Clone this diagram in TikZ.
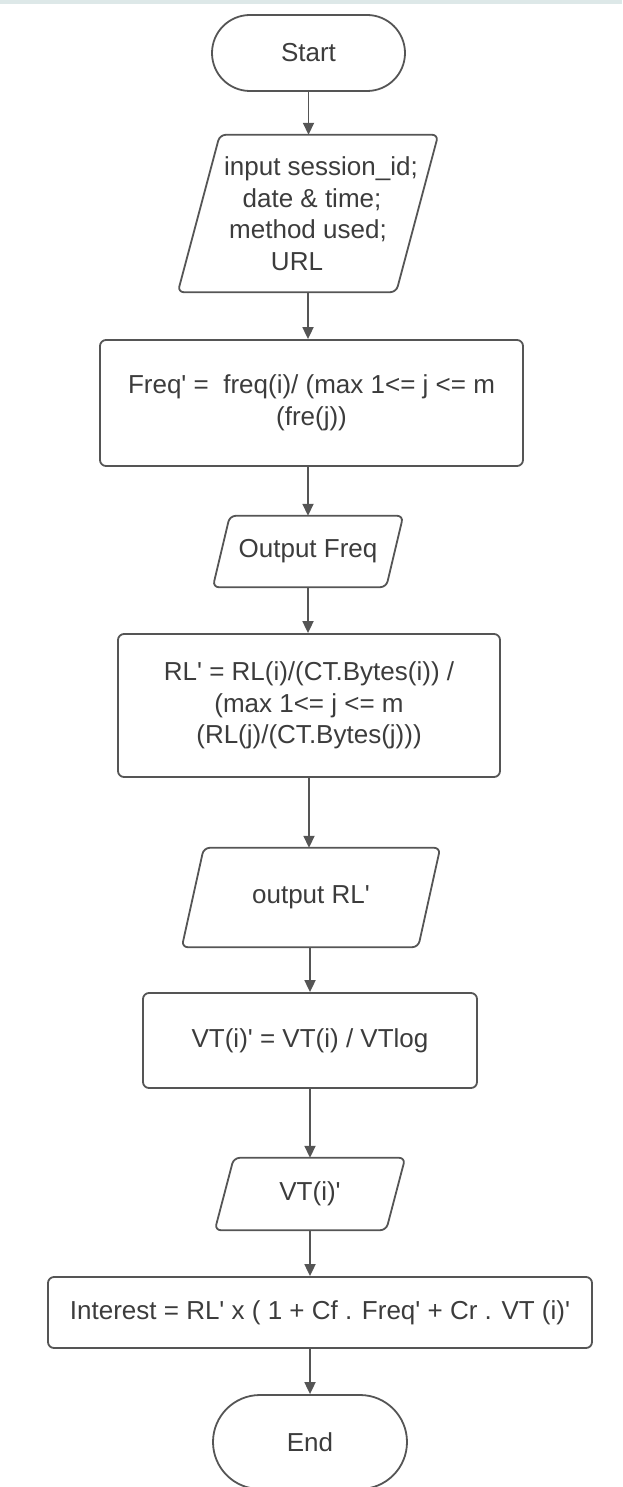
\documentclass[tikz,border=0pt]{standalone}
\usepackage{fontspec}
\setmainfont{Liberation Sans}
\usetikzlibrary{arrows.meta}
\definecolor{ln}{HTML}{555555}
\definecolor{tx}{HTML}{3C3C3C}
\definecolor{band}{HTML}{DDE8E8}
\newcommand{\q}{\textquotesingle}
\begin{document}
\begin{tikzpicture}[x=1pt,y=-1pt,
  every node/.style={text=tx, font=\fontsize{26}{31.5}\selectfont, inner sep=0pt},
  procbox/.style={draw=ln, line width=1.8pt, rounded corners=6pt, align=center},
  termbox/.style={draw=ln, line width=1.8pt, align=center},
  iotext/.style={align=center},
  iobox/.style={draw=ln, line width=1.8pt, rounded corners=6pt, line join=round},
  arr/.style={draw=ln, line width=1.8pt, -{Triangle[length=12pt,width=11pt]}}
]
\useasboundingbox (0,0) rectangle (622,1487);
\fill[band] (0,0) rectangle (622,4);

\node[termbox, minimum width=193pt, minimum height=76pt, rounded corners=38pt] (start) at (308.5,53) {Start};

\node[iotext, minimum width=260pt, minimum height=157pt] (in) at (308,213.5)
  {\hspace*{26pt}input session\_id;\\\hspace*{8pt}date \& time;\\method used;\hspace*{10pt}\\URL\hspace*{22pt}};
\draw[iobox] ([xshift=42pt]in.north west) -- (in.north east) -- ([xshift=-42pt]in.south east) -- (in.south west) -- cycle;

\node[procbox, minimum width=423pt, minimum height=126pt] (freq) at (311.5,403)
  {Freq\q{} =\ \ freq(i)/ (max 1<= j <= m\\(fre(j))};

\node[iotext, minimum width=190pt, minimum height=71pt] (ofreq) at (308,551.5) {Output Freq};
\draw[iobox] ([xshift=17pt]ofreq.north west) -- (ofreq.north east) -- ([xshift=-17pt]ofreq.south east) -- (ofreq.south west) -- cycle;

\node[procbox, minimum width=382pt, minimum height=143pt] (rl) at (309,705.5)
  {RL\q{} = RL(i)/(CT.Bytes(i)) /\\(max 1<= j <= m\\(RL(j)/(CT.Bytes(j)))};

\node[iotext, minimum width=258pt, minimum height=99pt] (orl) at (311,897.5) {output RL\q};
\draw[iobox] ([xshift=22pt]orl.north west) -- (orl.north east) -- ([xshift=-22pt]orl.south east) -- (orl.south west) -- cycle;

\node[procbox, minimum width=334pt, minimum height=95pt] (vt) at (310,1040.5)
  {VT(i)\q{} = VT(i) / VTlog};

\node[iotext, minimum width=190pt, minimum height=72pt] (vti) at (310,1194) {VT(i)\q};
\draw[iobox] ([xshift=19pt]vti.north west) -- (vti.north east) -- ([xshift=-19pt]vti.south east) -- (vti.south west) -- cycle;

\node[procbox, minimum width=544pt, minimum height=71pt] (int) at (320,1312.5)
  {Interest = RL\q{} x ( 1 + Cf . Freq\q{} + Cr . VT (i)\q};

\node[termbox, minimum width=194pt, minimum height=94pt, rounded corners=47pt] (end) at (310,1442) {End};

\draw[arr] (start.south) -- (start.south |- in.north);
\draw[arr] (in.south) -- (in.south |- freq.north);
\draw[arr] (ofreq.north |- freq.south) -- (ofreq.north);
\draw[arr] (ofreq.south) -- (ofreq.south |- rl.north);
\draw[arr] (rl.south) -- (rl.south |- orl.north);
\draw[arr] (vt.north |- orl.south) -- (vt.north);
\draw[arr] (vt.south) -- (vt.south |- vti.north);
\draw[arr] (vti.south) -- (vti.south |- int.north);
\draw[arr] (end.north |- int.south) -- (end.north);
\end{tikzpicture}
\end{document}
